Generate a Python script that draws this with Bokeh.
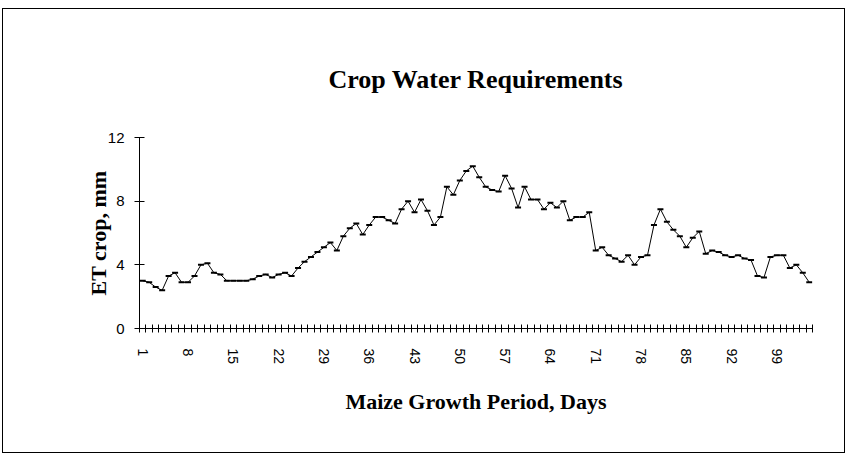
from bokeh.plotting import figure
from bokeh.models import Range1d, FixedTicker
from bokeh.embed import file_html
from bokeh.resources import INLINE

days = list(range(1, 105))
et_crop = [
    3.0, 2.9, 2.6, 2.4, 3.3, 3.5, 2.9, 2.9, 3.3, 4.0,
    4.1, 3.5, 3.4, 3.0, 3.0, 3.0, 3.0, 3.1, 3.3, 3.4,
    3.2, 3.4, 3.5, 3.3, 3.8, 4.2, 4.5, 4.8, 5.1, 5.4,
    4.9, 5.8, 6.3, 6.6, 5.9, 6.5, 7.0, 7.0, 6.8, 6.6,
    7.5, 8.0, 7.3, 8.1, 7.4, 6.5, 7.0, 8.9, 8.4, 9.3,
    9.9, 10.2, 9.5, 8.9, 8.7, 8.6, 9.6, 8.8, 7.6, 8.9,
    8.1, 8.1, 7.5, 7.9, 7.6, 8.0, 6.8, 7.0, 7.0, 7.3,
    4.9, 5.1, 4.6, 4.4, 4.2, 4.6, 4.0, 4.5, 4.6, 6.5,
    7.5, 6.7, 6.2, 5.8, 5.1, 5.7, 6.1, 4.7, 4.9, 4.8,
    4.6, 4.5, 4.6, 4.4, 4.3, 3.3, 3.2, 4.5, 4.6, 4.6,
    3.8, 4.0, 3.5, 2.9,
]
x_tick_labels = [1, 8, 15, 22, 29, 36, 43, 50, 57, 64, 71, 78, 85, 92, 99]
y_ticks = [0, 4, 8, 12]

serif = "Liberation Serif"
sans = "Liberation Sans"

p = figure(width=843, height=445, output_backend="svg", toolbar_location=None,
           x_range=Range1d(0.5, len(days) + 0.5), y_range=Range1d(0, 12),
           min_border_left=136, min_border_right=34, min_border_top=128,
           min_border_bottom=126)
p.styles = {"border": "1px solid black", "margin-top": "8px", "margin-left": "2px"}

p.title.text = "Crop Water Requirements"
p.title.text_font = serif
p.title.text_font_style = "bold"
p.title.text_font_size = "26px"
p.title.text_color = "black"
p.title.align = "center"
p.title.standoff = 87

p.outline_line_color = None
p.grid.visible = False
p.background_fill_color = "white"
p.border_fill_color = "white"

p.line(days, et_crop, line_color="black", line_width=1)
p.scatter(days, et_crop, marker="dash", size=6, line_color="black", line_width=2)

xa = p.xaxis[0]
xa.ticker = FixedTicker(ticks=x_tick_labels,
                        minor_ticks=[d - 0.5 for d in days] + [days[-1] + 0.5])
xa.major_tick_in = 0
xa.major_tick_out = 0
xa.minor_tick_in = 4
xa.minor_tick_out = 4
xa.minor_tick_line_color = "black"
xa.major_label_orientation = "vertical"
xa.major_label_text_font = sans
xa.major_label_text_font_size = "14px"
xa.major_label_text_color = "black"
xa.major_label_standoff = 16
xa.axis_label = "Maize Growth Period, Days"
xa.axis_label_text_font = serif
xa.axis_label_text_font_style = "bold"
xa.axis_label_text_font_size = "22px"
xa.axis_label_text_color = "black"
xa.axis_label_standoff = 22
xa.axis_line_color = "black"

ya = p.yaxis[0]
ya.ticker = FixedTicker(ticks=y_ticks)
ya.minor_tick_line_color = None
ya.major_tick_in = 5
ya.major_tick_out = 5
ya.major_tick_line_color = "black"
ya.major_label_text_font = sans
ya.major_label_text_font_size = "15px"
ya.major_label_text_color = "black"
ya.major_label_standoff = 10
ya.axis_label = "ET crop, mm"
ya.axis_label_text_font = serif
ya.axis_label_text_font_style = "bold"
ya.axis_label_text_font_size = "22px"
ya.axis_label_text_color = "black"
ya.axis_label_standoff = -6
ya.axis_line_color = "black"

open("out.html", "w").write(file_html(p, INLINE))
